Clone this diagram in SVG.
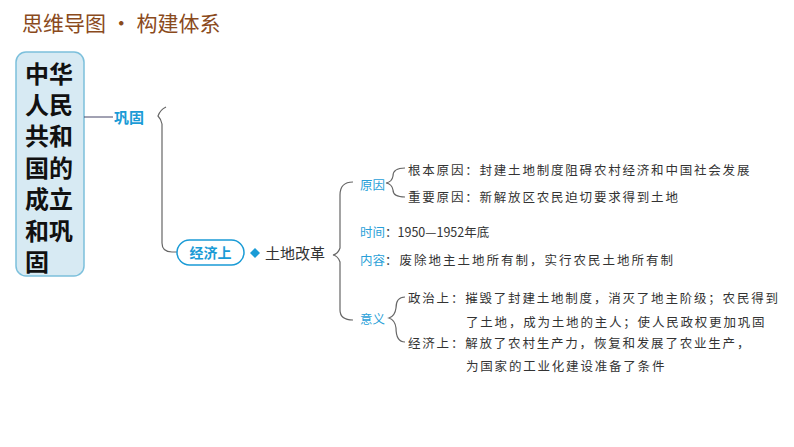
<svg xmlns="http://www.w3.org/2000/svg" width="794" height="447" viewBox="0 0 794 447">
<style>
.cjk{font-family:"Noto Sans CJK SC","Noto Sans",sans-serif}
.hw{font-family:"Noto Sans CJK SC",sans-serif;font-size:12.5px;fill:#333;letter-spacing:1.8px}
.lb{font-family:"Noto Sans CJK SC",sans-serif;font-size:12.5px;fill:#2a9fd8}
.br{fill:none;stroke:#666;stroke-width:1.2}
</style>
<rect width="794" height="447" fill="#fff"/>
<text x="22" y="31" class="cjk" font-size="21" fill="#8a4a1c">思维导图 · 构建体系</text>
<g id="root">
<rect x="16" y="52" width="68" height="224" rx="10" fill="#d7eaf3" stroke="#7cc0dc" stroke-width="1.5"/>
<g class="cjk" font-size="24" font-weight="bold" fill="#111">
<text x="25" y="83">中华</text><text x="25" y="114">人民</text><text x="25" y="145">共和</text><text x="25" y="177">国的</text><text x="25" y="208">成立</text><text x="25" y="240">和巩</text><text x="25" y="271">固</text>
</g></g>
<g id="connectors">
<line x1="84" y1="117" x2="113" y2="117" stroke="#446" stroke-width="1"/>
<path class="br" d="M166 107 Q160 110 158 116 Q161 119 162 124 L162 243 Q162 252 172 252 L177 252"/>
<path class="br" d="M353 182 Q340 182 340 195 L340 248 Q338 254 333 255 Q338 256 340 262 L340 310 Q340 320 353 320"/>
<path class="br" d="M405 168 Q393 168 393 176 Q392 182 386 183 Q392 184 393 190 Q393 197 405 197"/>
<path class="br" d="M405 297 Q396 297 396 308 Q395 316 389 318 Q395 320 396 328 Q396 342 405 342"/>
</g>
<g id="gonggu"><text x="114" y="123" class="cjk" font-size="15" font-weight="bold" fill="#1a9bd6">巩固</text></g>
<g id="jingji">
<rect x="177" y="240" width="67" height="25" rx="12.5" fill="#fff" stroke="#1a9bd6" stroke-width="1.5"/>
<text x="210.5" y="258" text-anchor="middle" class="cjk" font-size="14" font-weight="bold" fill="#1a9bd6">经济上</text>
<path d="M255 248 L260 253 L255 258 L250 253Z" fill="#1a9bd6"/>
<text x="265" y="259" class="cjk" font-size="15" fill="#333">土地改革</text>
</g>
<g id="details">
<text x="360" y="190" class="lb">原因</text>
<text x="408" y="175" class="hw">根本原因：封建土地制度阻碍农村经济和中国社会发展</text>
<text x="408" y="202" class="hw">重要原因：新解放区农民迫切要求得到土地</text>
<text x="360" y="237" class="lb">时间<tspan fill="#333">：1950—1952年底</tspan></text>
<text x="360" y="265" class="lb">内容<tspan fill="#333" letter-spacing="2">：废除地主土地所有制，实行农民土地所有制</tspan></text>
<text x="360" y="324" class="lb">意义</text>
<text x="408" y="303" class="hw">政治上：摧毁了封建土地制度，消灭了地主阶级；农民得到</text>
<text x="466" y="327" class="hw">了土地，成为土地的主人；使人民政权更加巩固</text>
<text x="408" y="348" class="hw">经济上：解放了农村生产力，恢复和发展了农业生产，</text>
<text x="466" y="371" class="hw">为国家的工业化建设准备了条件</text>
</g>
</svg>
